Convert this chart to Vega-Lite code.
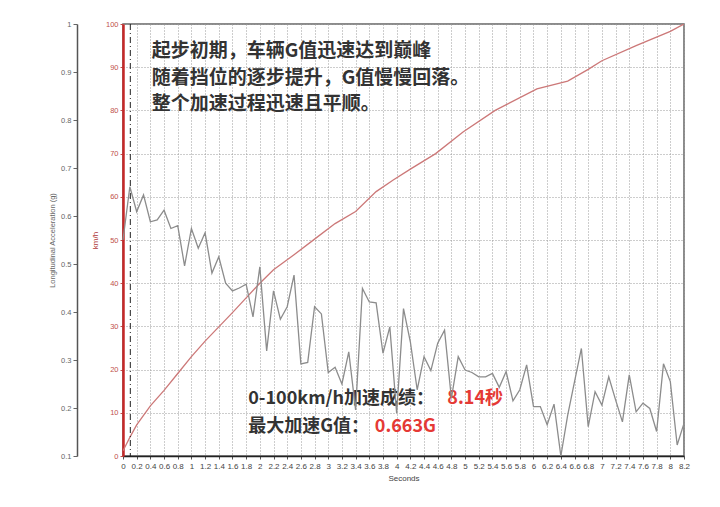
{
  "$schema": "https://vega.github.io/schema/vega-lite/v6.json",
  "width": 561,
  "height": 432,
  "autosize": {"type": "none"},
  "padding": {"left": 123, "top": 24, "right": 36, "bottom": 51},
  "background": "white",
  "config": {
    "view": {"stroke": "#666", "strokeWidth": 1.5},
    "font": "Liberation Sans",
    "axis": {"labelFont": "Liberation Sans", "titleFont": "Liberation Sans", "titleFontWeight": "normal"}
  },
  "datasets": {
    "accel": [
      {"t": 0.0, "g": 0.55}, {"t": 0.1, "g": 0.661}, {"t": 0.2, "g": 0.609}, {"t": 0.3, "g": 0.644},
      {"t": 0.4, "g": 0.588}, {"t": 0.5, "g": 0.592}, {"t": 0.6, "g": 0.612}, {"t": 0.7, "g": 0.574},
      {"t": 0.8, "g": 0.58}, {"t": 0.9, "g": 0.496}, {"t": 1.0, "g": 0.574}, {"t": 1.1, "g": 0.533},
      {"t": 1.2, "g": 0.565}, {"t": 1.3, "g": 0.481}, {"t": 1.4, "g": 0.515}, {"t": 1.5, "g": 0.46},
      {"t": 1.6, "g": 0.444}, {"t": 1.7, "g": 0.45}, {"t": 1.8, "g": 0.458}, {"t": 1.9, "g": 0.39},
      {"t": 2.0, "g": 0.494}, {"t": 2.1, "g": 0.319}, {"t": 2.2, "g": 0.444}, {"t": 2.3, "g": 0.385},
      {"t": 2.4, "g": 0.411}, {"t": 2.5, "g": 0.477}, {"t": 2.6, "g": 0.292}, {"t": 2.7, "g": 0.295},
      {"t": 2.8, "g": 0.411}, {"t": 2.9, "g": 0.396}, {"t": 3.0, "g": 0.274}, {"t": 3.1, "g": 0.285},
      {"t": 3.2, "g": 0.25}, {"t": 3.3, "g": 0.317}, {"t": 3.4, "g": 0.196}, {"t": 3.5, "g": 0.449},
      {"t": 3.6, "g": 0.421}, {"t": 3.7, "g": 0.419}, {"t": 3.8, "g": 0.314}, {"t": 3.9, "g": 0.369},
      {"t": 4.0, "g": 0.189}, {"t": 4.1, "g": 0.407}, {"t": 4.2, "g": 0.338}, {"t": 4.3, "g": 0.238},
      {"t": 4.4, "g": 0.307}, {"t": 4.5, "g": 0.278}, {"t": 4.6, "g": 0.335}, {"t": 4.7, "g": 0.362},
      {"t": 4.8, "g": 0.22}, {"t": 4.9, "g": 0.307}, {"t": 5.0, "g": 0.279}, {"t": 5.1, "g": 0.274},
      {"t": 5.2, "g": 0.265}, {"t": 5.3, "g": 0.265}, {"t": 5.4, "g": 0.272}, {"t": 5.5, "g": 0.243},
      {"t": 5.6, "g": 0.276}, {"t": 5.7, "g": 0.215}, {"t": 5.8, "g": 0.238}, {"t": 5.9, "g": 0.29},
      {"t": 6.0, "g": 0.203}, {"t": 6.1, "g": 0.203}, {"t": 6.2, "g": 0.165}, {"t": 6.3, "g": 0.208},
      {"t": 6.4, "g": 0.1}, {"t": 6.5, "g": 0.185}, {"t": 6.6, "g": 0.255}, {"t": 6.7, "g": 0.324},
      {"t": 6.8, "g": 0.161}, {"t": 6.9, "g": 0.234}, {"t": 7.0, "g": 0.206}, {"t": 7.1, "g": 0.265},
      {"t": 7.2, "g": 0.217}, {"t": 7.3, "g": 0.171}, {"t": 7.4, "g": 0.269}, {"t": 7.5, "g": 0.192},
      {"t": 7.6, "g": 0.21}, {"t": 7.7, "g": 0.199}, {"t": 7.8, "g": 0.151}, {"t": 7.9, "g": 0.292},
      {"t": 8.0, "g": 0.255}, {"t": 8.1, "g": 0.123}, {"t": 8.2, "g": 0.168}
    ],
    "speed": [
      {"t": 0.0, "v": 1.2}, {"t": 0.1, "v": 4.3}, {"t": 0.2, "v": 7.2}, {"t": 0.4, "v": 11.6},
      {"t": 0.6, "v": 15.2}, {"t": 0.8, "v": 19.1}, {"t": 1.0, "v": 23.0}, {"t": 1.2, "v": 26.6},
      {"t": 1.4, "v": 29.9}, {"t": 1.6, "v": 33.2}, {"t": 1.8, "v": 36.6}, {"t": 2.0, "v": 40.0},
      {"t": 2.2, "v": 43.1}, {"t": 2.5, "v": 46.6}, {"t": 2.8, "v": 50.2}, {"t": 3.1, "v": 53.8},
      {"t": 3.4, "v": 56.6}, {"t": 3.7, "v": 61.2}, {"t": 3.95, "v": 63.9}, {"t": 4.2, "v": 66.4},
      {"t": 4.57, "v": 70.0}, {"t": 4.97, "v": 75.0}, {"t": 5.44, "v": 80.0}, {"t": 6.05, "v": 85.0},
      {"t": 6.5, "v": 86.8}, {"t": 6.8, "v": 89.5}, {"t": 7.0, "v": 91.5}, {"t": 7.5, "v": 95.0},
      {"t": 8.0, "v": 98.3}, {"t": 8.2, "v": 100.0}
    ],
    "notes": [
      {"t": 0.42, "v": 93.7, "label": "起步初期，车辆G值迅速达到巅峰"},
      {"t": 0.42, "v": 87.6, "label": "随着挡位的逐步提升，G值慢慢回落。"},
      {"t": 0.42, "v": 81.5, "label": "整个加速过程迅速且平顺。"}
    ],
    "resultDark": [
      {"t": 1.83, "v": 13.2, "label": "0-100km/h加速成绩："},
      {"t": 1.83, "v": 6.8, "label": "最大加速G值："}
    ],
    "resultRed": [
      {"t": 4.74, "v": 13.2, "label": "8.14秒"},
      {"t": 3.68, "v": 6.8, "label": "0.663G"}
    ]
  },
  "encoding": {
    "x": {
      "field": "t", "type": "quantitative",
      "scale": {"domain": [0, 8.2], "nice": false, "zero": false},
      "axis": {
        "values": [0,0.2,0.4,0.6,0.8,1,1.2,1.4,1.6,1.8,2,2.2,2.4,2.6,2.8,3,3.2,3.4,3.6,3.8,4,4.2,4.4,4.6,4.8,5,5.2,5.4,5.6,5.8,6,6.2,6.4,6.6,6.8,7,7.2,7.4,7.6,7.8,8,8.2],
        "labelExpr": "format(datum.value, '.1~f')",
        "labelOverlap": false, "labelFlush": false, "labelFontSize": 8, "labelColor": "#444", "labelPadding": 3,
        "tickSize": 3, "tickColor": "#555",
        "domainColor": "#222", "domainWidth": 1.5,
        "grid": true, "gridColor": "#9a9a9a", "gridDash": [1, 2], "gridWidth": 1,
        "title": "Seconds", "titleFontSize": 8, "titleColor": "#444", "titlePadding": 4
      }
    }
  },
  "layer": [
    {
      "layer": [
        {
          "data": {"name": "speed"},
          "mark": {"type": "line", "color": "#cc7878", "strokeWidth": 1.3, "clip": true},
          "encoding": {
            "y": {
              "field": "v", "type": "quantitative",
              "scale": {"domain": [0, 100], "nice": false},
              "axis": {
                "orient": "left", "values": [0,5,10,15,20,25,30,35,40,45,50,55,60,65,70,75,80,85,90,95,100],
                "labelFontSize": 7.5, "labelColor": "#c0504d", "labelPadding": 2,
                "tickSize": 3, "tickColor": "#c0504d",
                "domainColor": "#c62828", "domainWidth": 2.5,
                "grid": true, "gridColor": "#9a9a9a", "gridDash": [1, 2], "gridWidth": 1,
                "title": "km/h", "titleFontSize": 8, "titleColor": "#b03a3a", "titlePadding": 6
              }
            }
          }
        },
        {
          "data": {"values": [{"t": 0.107}]},
          "mark": {"type": "rule", "color": "#222", "strokeWidth": 1, "strokeDash": [6, 3, 1, 3]},
          "encoding": {}
        },
        {
          "data": {"name": "notes"},
          "mark": {"type": "text", "align": "left", "baseline": "middle", "font": "Noto Sans CJK SC", "fontSize": 19, "fontWeight": "bold", "color": "#333"},
          "encoding": {
            "y": {"field": "v", "type": "quantitative"},
            "text": {"field": "label"}
          }
        },
        {
          "data": {"name": "resultDark"},
          "mark": {"type": "text", "align": "left", "baseline": "middle", "font": "Noto Sans CJK SC", "fontSize": 18, "fontWeight": "bold", "color": "#333"},
          "encoding": {
            "y": {"field": "v", "type": "quantitative"},
            "text": {"field": "label"}
          }
        },
        {
          "data": {"name": "resultRed"},
          "mark": {"type": "text", "align": "left", "baseline": "middle", "font": "Noto Sans CJK SC", "fontSize": 18, "fontWeight": "bold", "color": "#e53935"},
          "encoding": {
            "y": {"field": "v", "type": "quantitative"},
            "text": {"field": "label"}
          }
        }
      ]
    },
    {
      "data": {"name": "accel"},
      "mark": {"type": "line", "color": "#8c8c8c", "strokeWidth": 1.3},
      "encoding": {
        "y": {
          "field": "g", "type": "quantitative",
          "scale": {"domain": [0.1, 1], "nice": false, "zero": false},
          "axis": {
            "orient": "left", "offset": 46,
            "values": [0.1,0.2,0.3,0.4,0.5,0.6,0.7,0.8,0.9,1],
            "labelExpr": "format(datum.value, '.1~f')",
            "labelFontSize": 7.5, "labelColor": "#666", "labelPadding": 2,
            "tickSize": 4, "tickColor": "#666",
            "domainColor": "#555", "domainWidth": 1.5,
            "grid": false,
            "title": "Longitudinal Acceleration (g)", "titleFontSize": 7.5, "titleColor": "#666", "titlePadding": 4
          }
        }
      }
    }
  ],
  "resolve": {"scale": {"y": "independent"}}
}
